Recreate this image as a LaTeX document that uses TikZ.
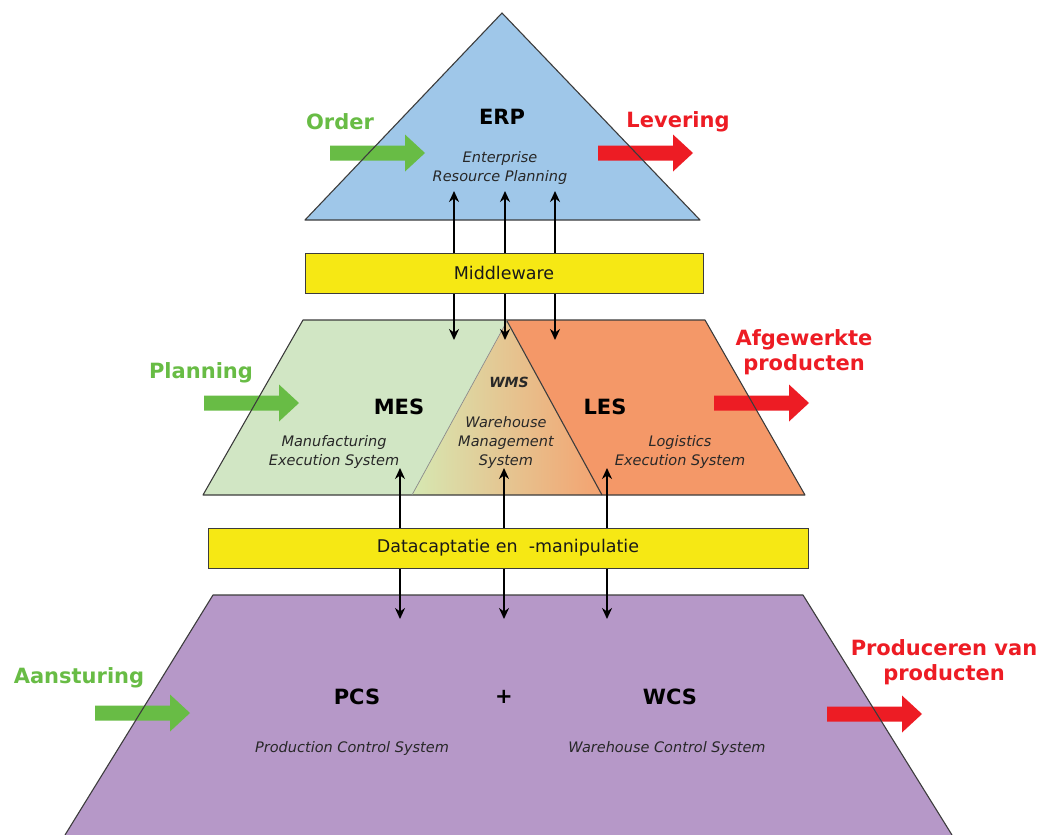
\documentclass[tikz,border=0pt]{standalone}
\usepackage{fontspec}
\setmainfont{DejaVu Sans}
\usetikzlibrary{arrows.meta}
\definecolor{erpblue}{RGB}{159,199,233}
\definecolor{mesgreen}{RGB}{209,230,196}
\definecolor{lesorange}{RGB}{244,152,104}
\definecolor{wmsgreen}{RGB}{214,232,178}
\definecolor{wmsorange}{RGB}{244,162,112}
\definecolor{pcspurple}{RGB}{182,152,200}
\definecolor{mwyellow}{RGB}{246,232,20}
\definecolor{ingreen}{RGB}{104,188,69}
\definecolor{outred}{RGB}{237,28,36}
\definecolor{edgegray}{RGB}{60,60,60}
\definecolor{subgray}{RGB}{40,40,40}
\tikzset{
  blockarrow/.pic={\fill (0,-7.5) -- (75,-7.5) -- (75,-18.5) -- (95,0) -- (75,18.5) -- (75,7.5) -- (0,7.5) -- cycle;},
  shapeedge/.style={draw=edgegray,line width=1.1pt,line join=round},
  layerbox/.style={draw=edgegray,line width=1pt,fill=mwyellow,minimum height=40pt,inner sep=0pt,font=\fontsize{17.5}{20}\selectfont,text=black!90},
  title/.style={font=\fontsize{21}{24}\selectfont\bfseries,text=black},
  sub/.style={font=\fontsize{14.5}{19}\selectfont\itshape,text=subgray,align=center,inner sep=0pt},
  inlabel/.style={font=\fontsize{21}{25}\selectfont\bfseries,text=ingreen,align=center,inner sep=0pt},
  outlabel/.style={font=\fontsize{21}{25}\selectfont\bfseries,text=outred,align=center,inner sep=0pt},
  link/.style={line width=2.2pt,black,{Stealth[length=11pt,width=10pt]}-{Stealth[length=11pt,width=10pt]}}
}
\begin{document}
\begin{tikzpicture}[x=1pt,y=-1pt]
\useasboundingbox (0,0) rectangle (1047,835);
% fills
\fill[erpblue] (305,220) -- (502,13) -- (700,220) -- cycle;
\fill[mesgreen] (303,320) -- (507,320) -- (412,495) -- (203,495) -- cycle;
\fill[lesorange] (507,320) -- (705,320) -- (805,495) -- (602,495) -- cycle;
\shade[left color=wmsgreen,right color=wmsorange] (412,495) -- (507,321) -- (602,495) -- cycle;
\fill[pcspurple] (213,595) -- (803,595) -- (952,835) -- (65,835) -- cycle;
% big arrows
\pic[ingreen] at (330,153) {blockarrow};
\pic[outred] at (598,153) {blockarrow};
\pic[ingreen] at (204,403) {blockarrow};
\pic[outred] at (714,403) {blockarrow};
\pic[ingreen] at (95,713) {blockarrow};
\pic[outred] at (827,714) {blockarrow};
% outlines
\draw[shapeedge] (305,220) -- (502,13) -- (700,220) -- cycle;
\draw[shapeedge] (303,320) -- (705,320) -- (805,495) -- (203,495) -- cycle;
\draw[edgegray!60,line width=0.7pt] (412,495) -- (507,321);
\draw[shapeedge] (507,321) -- (602,495);
\draw[shapeedge] (65,835) -- (213,595) -- (803,595) -- (952,835);
% connectors
\coordinate (a1t) at (454,191); \coordinate (a1b) at (454,340);
\coordinate (a2t) at (505,191); \coordinate (a2b) at (505,340);
\coordinate (a3t) at (555,191); \coordinate (a3b) at (555,340);
\coordinate (b1t) at (400,468); \coordinate (b1b) at (400,619);
\coordinate (b2t) at (504,468); \coordinate (b2b) at (504,619);
\coordinate (b3t) at (607,468); \coordinate (b3b) at (607,619);
\foreach \n in {a1,a2,a3,b1,b2,b3} \draw[link] (\n t) -- (\n b);
% layer boxes
\node[layerbox,minimum width=398pt] (mw) at (504,273) {Middleware};
\node[layerbox,minimum width=600pt] (dc) at (508,548) {Datacaptatie en \ -manipulatie};
% texts
\node[title] (erp) at (502,117) {ERP};
\node[sub] (erpsub) at (500,168) {Enterprise\\Resource Planning};
\node[title] (mes) at (399,407) {MES};
\node[sub] (messub) at (334,452) {Manufacturing\\Execution System};
\node[font=\fontsize{14}{16}\selectfont\bfseries\itshape,text=subgray] (wms) at (509,382) {WMS};
\node[sub] (wmssub) at (506,442) {Warehouse\\Management\\System};
\node[title] (les) at (605,407) {LES};
\node[sub] (lessub) at (680,452) {Logistics\\Execution System};
\node[title] (pcs) at (357,697) {PCS};
\node[title] (plus) at (504,697) {+};
\node[title] (wcs) at (670,697) {WCS};
\node[sub] (pcssub) at (352,748) {Production Control System};
\node[sub] (wcssub) at (667,748) {Warehouse Control System};
\node[inlabel] (order) at (340,122) {Order};
\node[outlabel] (lev) at (678,122) {Levering};
\node[inlabel] (plan) at (201,373) {Planning};
\node[outlabel] (afg) at (804,352) {Afgewerkte\\producten};
\node[inlabel] (aan) at (79,678) {Aansturing};
\node[outlabel] (prod) at (944,662) {Produceren van\\producten};
\end{tikzpicture}
\end{document}
